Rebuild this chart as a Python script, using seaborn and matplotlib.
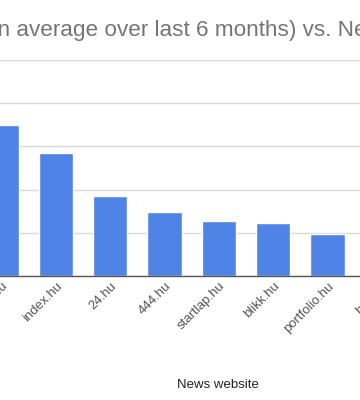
import matplotlib
matplotlib.use("Agg")
import matplotlib.pyplot as plt
import seaborn as sns
import pandas as pd

sites = ["origo.hu", "index.hu", "24.hu", "444.hu", "startlap.hu", "blikk.hu", "portfolio.hu", "hvg.hu"]
visits = [35.0, 28.5, 18.5, 14.8, 12.7, 12.3, 9.7, 8.0]
yticks = [0, 10, 20, 30, 40, 50]
title = "Monthly visits (million average over last 6 months) vs. News website"
xlabel = "News website"

df = pd.DataFrame({"site": sites, "visits": visits})

sns.set_theme(style="white")
plt.rcParams["font.family"] = ["Liberation Sans", "DejaVu Sans"]

fig = plt.figure(figsize=(3.6, 4.0), dpi=100)
# axes wider than the figure: the reference is a crop of a larger chart
step = 54.3
left_px = 1.7 - 0.5 * step
width_px = 8 * step
ax = fig.add_axes([left_px / 360, 0.31, width_px / 360, 0.54])
sns.barplot(data=df, x="site", y="visits", color="#5083e6", width=0.63,
            saturation=1, ax=ax, zorder=3)

ax.set_xlim(-0.5, 7.5)
ax.set_ylim(0, 50)
ax.set_yticks(yticks)
ax.set_yticklabels([])
ax.tick_params(axis="y", length=0)
ax.grid(axis="y", color="#d9d9d9", lw=1, zorder=0)
for s in ["top", "right", "left"]:
    ax.spines[s].set_visible(False)
ax.spines["bottom"].set_color("#555555")
ax.spines["bottom"].set_linewidth(1)
ax.spines["bottom"].set_zorder(4)
ax.set_xlabel("")
ax.set_ylabel("")
ax.tick_params(axis="x", length=0, pad=3)
plt.setp(ax.get_xticklabels(), rotation=45, ha="right", rotation_mode="anchor",
         fontsize=9.5, color="#555555")

fig.text(218 / 360, 1 - 385 / 400, xlabel, ha="center", va="center",
         fontsize=9.5, color="#222222")

# title, positioned so the visible part matches
fig.canvas.draw()
r = fig.canvas.get_renderer()
probe = fig.text(0, 0, "average over last 6 months) vs. N", fontsize=10)
w10 = probe.get_window_extent(r).width
probe.remove()
fs = 10 * 337 / w10
pre = fig.text(0, 0, "Monthly visits (millio", fontsize=fs)
wp = pre.get_window_extent(r).width
pre.remove()
fig.text((-wp - 2) / 360, 1 - 36 / 400, title, ha="left", va="baseline",
         fontsize=fs, color="#757575")

fig.savefig("out.png", dpi=100)
